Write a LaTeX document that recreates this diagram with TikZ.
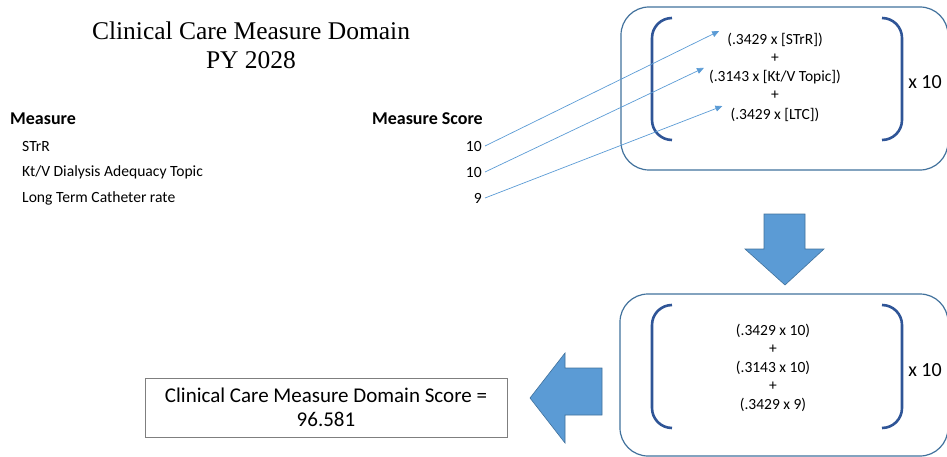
\documentclass[tikz,border=0pt]{standalone}
\usepackage{fontspec}
\setmainfont{Carlito}
\newfontfamily\titlefont{Liberation Serif}
\usetikzlibrary{arrows.meta}
\definecolor{linkblue}{HTML}{5B9BD5}
\definecolor{edgeblue}{HTML}{41719C}
\definecolor{bracketblue}{HTML}{2F5597}
\definecolor{boxgray}{HTML}{7F7F7F}
\begin{document}
\begin{tikzpicture}[
    x=1pt, y=-1pt,
    % Style for the table text
    cell/.style={inner sep=3pt, font=\fontsize{15.6}{18}\selectfont},
    head/.style={cell, font=\fontsize{18}{20}\selectfont\bfseries},
    % Style for the formula lines inside the panels
    formula/.style={inner sep=2pt, font=\fontsize{15.5}{17}\selectfont},
    factor/.style={inner sep=0pt, font=\fontsize{20}{22}\selectfont},
    % Rounded panels and brackets
    panel/.style={draw=edgeblue, line width=1.2pt, rounded corners=28pt},
    bracket/.style={draw=bracketblue, line width=2.6pt, rounded corners=20pt},
    % Thin arrows and block arrows
    link/.style={draw=linkblue, line width=0.7pt, -{Triangle[length=7pt,width=6pt]}},
    block/.style={fill=linkblue, draw=edgeblue, line width=0.6pt}
]
    \useasboundingbox (0,0) rectangle (947,457);

    % --- 1. Title ---
    \node[font=\titlefont\fontsize{25.5}{29}\selectfont, align=center] (title) at (251,45)
        {Clinical Care Measure Domain\\PY 2028};

    % --- 2. Table of measures ---
    \node[head, anchor=west] (hmeasure) at (7,119) {Measure};
    \node[head, anchor=east] (hscore) at (486,119) {Measure Score};

    \node[cell, anchor=west] (m1) at (19,146) {STrR};
    \node[cell, anchor=west] (m2) at (19,172) {Kt/V Dialysis Adequacy Topic};
    \node[cell, anchor=west] (m3) at (19,198) {Long Term Catheter rate};

    \node[cell, anchor=east] (s1) at (485,146) {10};
    \node[cell, anchor=east] (s2) at (485,172) {10};
    \node[cell, anchor=east] (s3) at (485,198) {9};

    % --- 3. Top panel with weighted formula ---
    \draw[panel] (621,7) rectangle (948,170);
    \draw[bracket] (672,18) -- (652,18) -- (652,140) -- (672,140);
    \draw[bracket] (882,18) -- (902,18) -- (902,140) -- (882,140);

    \node[formula] (f1) at (775,40) {(.3429 x [STrR])};
    \node[formula] (p1) at (775,58) {+};
    \node[formula] (f2) at (775,77) {(.3143 x [Kt/V Topic])};
    \node[formula] (p2) at (775,95) {+};
    \node[formula] (f3) at (775,115) {(.3429 x [LTC])};
    \node[factor] (x1) at (925,82) {x 10};

    % arrows from scores to formula terms
    \draw[link] (s1.east) -- ([xshift=-6pt]f1.north west);
    \draw[link] (s2.east) -- ([xshift=-3pt]f2.north west);
    \draw[link] (s3.east) -- ([xshift=-6pt]f3.north west);

    % --- 4. Down arrow ---
    \draw[block] (764,214) -- (805,214) -- (805,249) -- (824,249)
        -- (785,285) -- (745,249) -- (764,249) -- cycle;

    % --- 5. Bottom panel with filled-in values ---
    \draw[panel] (620,294) rectangle (948,456);
    \draw[bracket] (672,305) -- (652,305) -- (652,428) -- (672,428);
    \draw[bracket] (882,305) -- (902,305) -- (902,428) -- (882,428);

    \node[formula] (g1) at (773,331) {(.3429 x 10)};
    \node[formula] (q1) at (773,349) {+};
    \node[formula] (g2) at (773,368) {(.3143 x 10)};
    \node[formula] (q2) at (773,386) {+};
    \node[formula] (g3) at (773,405) {(.3429 x 9)};
    \node[factor] (x2) at (925,370) {x 10};

    % --- 6. Left arrow and result ---
    \draw[block] (602,368) -- (602,415) -- (565,415) -- (565,443)
        -- (530,398) -- (565,353) -- (565,368) -- cycle;

    \node[draw=boxgray, line width=0.9pt, minimum width=362pt, minimum height=59pt,
        align=center, font=\fontsize{21}{24}\selectfont] (result) at (326,407.5)
        {Clinical Care Measure Domain Score =\\96.581};

\end{tikzpicture}
\end{document}
